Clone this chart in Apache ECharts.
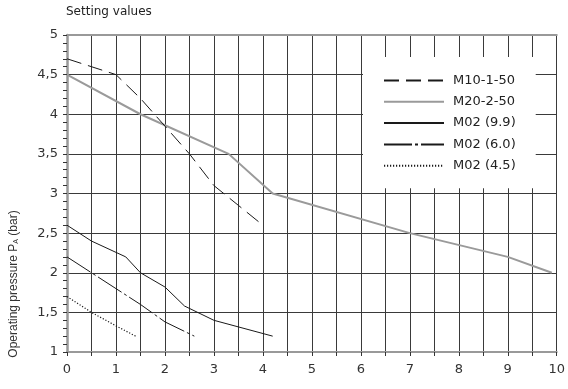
<!DOCTYPE html>
<html>
<head>
<meta charset="utf-8">
<script src="https://cdn.jsdelivr.net/npm/echarts@6/dist/echarts.min.js"></script>
<style>html,body{margin:0;padding:0;background:#fff}#c{width:568px;height:389px}</style>
</head>
<body>
<div id="c"></div>
<script>
var names = ['M10-1-50', 'M20-2-50', 'M02 (9.9)', 'M02 (6.0)', 'M02 (4.5)'];
var m10X = [0, 1, 1.5, 2, 2.5, 3, 4];
var m10Y = [4.7, 4.5, 4.2, 3.85, 3.5, 3.1, 2.6];
var m20X = [0, 1.5, 3.3, 4.2, 7, 9, 9.9];
var m20Y = [4.5, 4.0, 3.5, 3.0, 2.5, 2.2, 2.0];
var m99X = [0, 0.5, 1.2, 1.5, 2, 2.4, 3, 4.2];
var m99Y = [2.6, 2.4, 2.2, 2.0, 1.82, 1.58, 1.4, 1.2];
var m60X = [0, 0.5, 1.5, 2, 2.6];
var m60Y = [2.2, 2.0, 1.6, 1.38, 1.2];
var m45X = [0, 0.5, 1, 1.4];
var m45Y = [1.7, 1.5, 1.33, 1.2];
var xTicks = [0,1,2,3,4,5,6,7,8,9,10];
var yTicks = [1,1.5,2,2.5,3,3.5,4,4.5,5];

function zip(xs, ys){ return xs.map(function(x,i){ return [x, ys[i]]; }); }
var FONT = 'Liberation Sans';
var WFONT = 'DejaVu Sans';
var dark = '#1a1a1a';
var styles = [
  {color: dark, width: 1, type: [15, 7]},
  {color: '#9a9a9a', width: 2, type: 'solid'},
  {color: dark, width: 1, type: 'solid'},
  {color: dark, width: 1, type: [28, 3, 3, 3]},
  {color: dark, width: 1.2, type: [1.2, 1.8]}
];
var datas = [zip(m10X,m10Y), zip(m20X,m20Y), zip(m99X,m99Y), zip(m60X,m60Y), zip(m45X,m45Y)];

var chart = echarts.init(document.getElementById('c'));
chart.setOption({
  animation: false,
  backgroundColor: '#fff',
  title: {text: 'Setting values', left: 66, top: 6, padding: 0,
    textStyle: {fontFamily: WFONT, fontSize: 12, fontWeight: 'normal', color: '#222'}},
  grid: {left: 67, right: 8, top: 35, bottom: 37},
  legend: {
    orient: 'vertical', left: 363, top: 57, backgroundColor: '#fff',
    padding: [17, 20, 16, 20], itemWidth: 60, itemHeight: 14, itemGap: 8.3,
    data: names,
    itemStyle: {opacity: 0},
    textStyle: {fontFamily: WFONT, fontSize: 13, color: '#222', padding: [0, 0, 0, 4]}
  },
  xAxis: [{
    type: 'value', min: 0, max: 10, interval: 0.5,
    axisLine: {show: true, onZero: false, lineStyle: {color: '#999', width: 2}},
    axisTick: {show: true, length: 4, lineStyle: {color: '#333'}},
    axisLabel: {margin: 11, fontFamily: WFONT, fontSize: 13, color: '#333',
      formatter: function(v){ return xTicks.indexOf(v) >= 0 ? String(v) : ''; }},
    splitLine: {show: true, lineStyle: {color: '#3a3a3a', width: 1}}
  }, {
    type: 'value', position: 'top', min: 0, max: 10, interval: 0.5,
    axisLine: {show: true, lineStyle: {color: '#999', width: 2}},
    axisTick: {show: false}, axisLabel: {show: false}, splitLine: {show: false}
  }],
  yAxis: {
    type: 'value', min: 1, max: 5, interval: 0.5,
    axisLine: {show: true, onZero: false, lineStyle: {color: '#999', width: 2.5}},
    axisTick: {show: true, length: 4, lineStyle: {color: '#333'}},
    minorTick: {show: true, splitNumber: 5, length: 4, lineStyle: {color: '#333'}},
    axisLabel: {margin: 9, fontFamily: WFONT, fontSize: 13, color: '#333',
      formatter: function(v){ return yTicks.indexOf(v) >= 0 ? String(v).replace('.', ',') : ''; }},
    splitLine: {show: true, lineStyle: {color: '#3a3a3a', width: 1}}
  },
  graphic: [{
    type: 'text', x: 14, y: 284, rotation: Math.PI / 2,
    style: {
      text: 'Operating pressure P{sub|A} (bar)',
      font: '12px ' + FONT, fill: '#333',
      align: 'center', verticalAlign: 'middle',
      rich: {sub: {fontSize: 7, fontFamily: FONT, fill: '#333', padding: [5, 0, 0, 0]}}
    }
  }],
  series: names.map(function(n, i){
    return {
      name: n, type: 'line', data: datas[i], symbol: 'none',
      lineStyle: styles[i], itemStyle: {color: styles[i].color},
      z: i === 1 ? 3 : 4
    };
  })
});
</script>
</body>
</html>
